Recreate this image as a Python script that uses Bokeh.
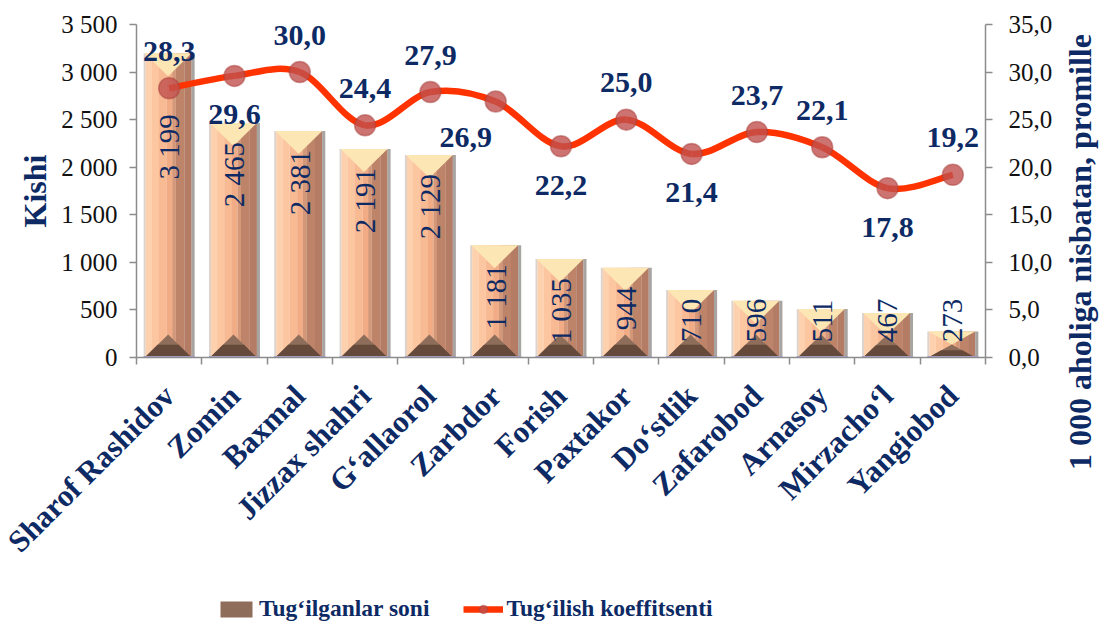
import math
import numpy as np
from bokeh.plotting import figure
from bokeh.layouts import row, column
from bokeh.models import (ColumnDataSource, Range1d, LinearAxis, FixedTicker,
                          LabelSet, Legend, LegendItem, Div)
from bokeh.core.properties import value
from bokeh.embed import file_html
from bokeh.resources import INLINE

# ---------------- data ----------------
categories = ["Sharof Rashidov", "Zomin", "Baxmal", "Jizzax shahri", "G\u2018allaorol",
              "Zarbdor", "Forish", "Paxtakor", "Do\u2018stlik", "Zafarobod",
              "Arnasoy", "Mirzacho\u2018l", "Yangiobod"]
births = [3199, 2465, 2381, 2191, 2129, 1181, 1035, 944, 710, 596, 511, 467, 273]
births_text = ["3 199", "2 465", "2 381", "2 191", "2 129", "1 181", "1 035",
               "944", "710", "596", "511", "467", "273"]
rate = [28.3, 29.6, 30.0, 24.4, 27.9, 26.9, 22.2, 25.0, 21.4, 23.7, 22.1, 17.8, 19.2]
rate_text = ["28,3", "29,6", "30,0", "24,4", "27,9", "26,9", "22,2", "25,0",
             "21,4", "23,7", "22,1", "17,8", "19,2"]
left_ticks = [0, 500, 1000, 1500, 2000, 2500, 3000, 3500]
left_tick_text = ["0", "500", "1 000", "1 500", "2 000", "2 500", "3 000", "3 500"]
right_ticks = [0, 5, 10, 15, 20, 25, 30, 35]
right_tick_text = ["0,0", "5,0", "10,0", "15,0", "20,0", "25,0", "30,0", "35,0"]
left_title = "Kishi"
right_title = "1 000 aholiga nisbatan, promille"
series_names = ["Tug\u2018ilganlar soni", "Tug\u2018ilish koeffitsenti"]

# label placement style for the rate labels
rate_label_side = ["above", "below", "above", "above", "above", "below-left", "below",
                   "above", "below", "above", "above", "below", "above"]

# ---------------- style ----------------
NAVY = "#0D2A64"
FONT = "Liberation Serif"
BAR_W = 0.78
BEVEL = 242          # bevel depth, in left-axis units (about 23 px)
LINE_COLOR = "#FF3300"
MARK_FILL = "#C0504D"
BEVEL_TOP = "#FCE7B4"
BEVEL_BOT = "#8E6E5A"
BEVEL_BOT2 = "#65493A"

n = len(categories)
xs = np.arange(n, dtype=float)

p = figure(width=1068, height=586, x_range=Range1d(-0.5, n - 0.5), y_range=Range1d(0, 3500),
           output_backend="svg", toolbar_location=None,
           min_border_left=136, min_border_right=83, min_border_top=24, min_border_bottom=229)
p.extra_y_ranges = {"r": Range1d(0, 35)}
p.outline_line_color = None
p.xgrid.visible = False
p.ygrid.visible = False

# ---------------- bars (strips imitate the gradient) ----------------
strips = [(0.00, 0.04, "#DCD3CC"), (0.04, 0.16, "#FDD0AE"), (0.16, 0.30, "#FCC6A0"),
          (0.30, 0.45, "#F8BA93"), (0.45, 0.56, "#F1AC86"), (0.56, 0.63, "#D49878"),
          (0.63, 0.80, "#BE8469"), (0.80, 0.94, "#B47C64"), (0.94, 1.00, "#A8A4A2")]
for f0, f1, col in strips:
    off = (f0 + f1) / 2 - 0.5
    p.vbar(x=list(xs + off * BAR_W), top=births, width=(f1 - f0) * BAR_W * 1.02,
           bottom=0, fill_color=col, line_color=None)

top_xs, top_ys, bot_xs, bot_ys, bot2_xs, bot2_ys = [], [], [], [], [], []
for x, v in zip(xs, births):
    d = min(BEVEL, v / 2)
    xl, xr, xm = x - BAR_W / 2 * 0.96, x + BAR_W / 2 * 0.88, x - BAR_W * 0.02
    top_xs.append([xl, xr, xm])
    top_ys.append([v, v, v - d])
    bot_xs.append([xl, xr, xm])
    bot_ys.append([0, 0, d])
    bot2_xs.append([xl, xr, xm + (xr - xm) * 0.45, xm - (xm - xl) * 0.45])
    bot2_ys.append([0, 0, d * 0.55, d * 0.55])
p.patches(top_xs, top_ys, fill_color=BEVEL_TOP, line_color=None)
p.patches(bot_xs, bot_ys, fill_color=BEVEL_BOT, line_color=None)
p.patches(bot2_xs, bot2_ys, fill_color=BEVEL_BOT2, line_color=None)
p.segment(x0=list(xs - BAR_W / 2), y0=[0] * n, x1=list(xs + BAR_W / 2), y1=[0] * n,
          line_color="#A79FCF", line_width=3)

# bar value labels (rotated)
lab_y = [v - 200 if v >= 900 else 160 for v in births]
lab_align = ["right" if v >= 900 else "left" for v in births]
lab_yoff = [0] * n
lab_yoff[0] = 42
bsrc = ColumnDataSource(dict(x=xs, y=lab_y, t=births_text, a=lab_align, yo=lab_yoff))
p.text(x="x", y="y", text="t", source=bsrc, angle=math.pi / 2, text_align="a",
       text_baseline="middle", y_offset="yo", text_font=value(FONT),
       text_font_size="29px", text_color=NAVY)

# ---------------- smooth line (Catmull-Rom as Bezier) ----------------
P = np.column_stack([xs, np.array(rate)])
x0, y0, x1, y1, cx0, cy0, cx1, cy1 = [], [], [], [], [], [], [], []
for i in range(n - 1):
    pa = P[i - 1] if i > 0 else P[i]
    pb, pc = P[i], P[i + 1]
    pd = P[i + 2] if i + 2 < n else P[i + 1]
    c1 = pb + (pc - pa) / 6
    c2 = pc - (pd - pb) / 6
    x0.append(pb[0]); y0.append(pb[1]); x1.append(pc[0]); y1.append(pc[1])
    cx0.append(c1[0]); cy0.append(c1[1]); cx1.append(c2[0]); cy1.append(c2[1])
p.bezier(x0=x0, y0=y0, x1=x1, y1=y1, cx0=cx0, cy0=cy0, cx1=cx1, cy1=cy1,
         line_color=LINE_COLOR, line_width=6.5, y_range_name="r")
p.scatter(x=list(xs), y=rate, size=21, fill_color=MARK_FILL, fill_alpha=0.8,
          line_color="#A8403C", line_alpha=0.5, line_width=1.5, y_range_name="r")

offs = {"above": (0, 37), "below": (0, -39), "below-left": (-30, -36)}
rsrc = ColumnDataSource(dict(x=xs, y=rate, t=rate_text,
                             xo=[offs[s][0] for s in rate_label_side],
                             yo=[offs[s][1] for s in rate_label_side]))
p.add_layout(LabelSet(x="x", y="y", text="t", source=rsrc, y_range_name="r",
                      x_offset="xo", y_offset="yo", text_align="center",
                      text_baseline="middle", text_font=value(FONT), text_font_style="bold",
                      text_font_size="30px", text_color=NAVY))

# ---------------- axes ----------------
xa = p.xaxis[0]
xa.ticker = FixedTicker(ticks=list(xs), minor_ticks=[i - 0.5 for i in range(n + 1)])
xa.major_label_overrides = {i: c for i, c in enumerate(categories)}
xa.major_tick_line_color = None
xa.minor_tick_out = 7
xa.minor_tick_in = 0
xa.minor_tick_line_color = "#8C8C8C"
xa.minor_tick_line_width = 1.5
xa.axis_line_color = "#8C8C8C"
xa.axis_line_width = 1.5
xa.major_label_orientation = math.pi / 4
xa.major_label_standoff = 26
xa.major_label_text_font = FONT
xa.major_label_text_font_style = "bold"
xa.major_label_text_font_size = "31px"
xa.major_label_text_color = NAVY

ya = p.yaxis[0]
ya.ticker = FixedTicker(ticks=left_ticks)
ya.major_label_overrides = {t: s for t, s in zip(left_ticks, left_tick_text)}
ya.axis_label = left_title
ya.axis_label_standoff = 5
ya.axis_label_text_font = FONT
ya.axis_label_text_font_style = "bold"
ya.axis_label_text_font_size = "32px"
ya.axis_label_text_color = NAVY

ra = LinearAxis(y_range_name="r", ticker=FixedTicker(ticks=right_ticks))
ra.major_label_overrides = {t: s for t, s in zip(right_ticks, right_tick_text)}
p.add_layout(ra, "right")

for ax in (ya, ra):
    ax.minor_tick_line_color = None
    ax.major_tick_out = 7
    ax.major_tick_in = 0
    ax.major_tick_line_color = "#8C8C8C"
    ax.major_tick_line_width = 1.5
    ax.axis_line_color = "#8C8C8C"
    ax.axis_line_width = 1.5
    ax.major_label_text_font = FONT
    ax.major_label_text_font_size = "25px"
    ax.major_label_text_color = "#111111"
ya.major_label_standoff = 12
ra.major_label_standoff = 16

# ---------------- right axis title (reads bottom to top) ----------------
title_div = Div(text=right_title, width=32, height=494,
                styles={"writing-mode": "vertical-rl",
                        "transform": "translate(-9px, 0px) rotate(180deg)",
                        "text-align": "center", "font-family": FONT, "font-weight": "bold",
                        "font-size": "32px", "line-height": "32px", "color": NAVY,
                        "white-space": "nowrap", "overflow": "visible"})

# ---------------- legend strip ----------------
lg = figure(width=1100, height=40, x_range=Range1d(0, 1), y_range=Range1d(0, 1),
            output_backend="svg", toolbar_location=None, min_border=0)
lg.outline_line_color = None
lg.xaxis.visible = False
lg.yaxis.visible = False
lg.xgrid.visible = False
lg.ygrid.visible = False
# legend-only renderers, placed outside the visible range
r_bar = lg.patches(xs=[[-10, -9, -9.5]], ys=[[-10, -10, -9]], fill_color=BEVEL_BOT,
                   line_color=None)
r_line = lg.line(x=[-10, -9], y=[-10, -10], line_color=LINE_COLOR, line_width=6.5)
r_mark = lg.scatter(x=[-10], y=[-10], size=21, fill_color=MARK_FILL, fill_alpha=0.8,
                    line_color="#A8403C", line_alpha=0.5, line_width=1.5)
legend = Legend(items=[LegendItem(label=series_names[0], renderers=[r_bar]),
                       LegendItem(label=series_names[1], renderers=[r_line, r_mark])],
                location=(216, 4), orientation="horizontal",
                glyph_width=40, glyph_height=20, label_standoff=3, spacing=34,
                padding=0, margin=0, border_line_color=None, background_fill_alpha=0,
                label_text_font=FONT, label_text_font_style="bold",
                label_text_font_size="23.5px", label_text_color=NAVY)
lg.add_layout(legend, "center")

layout = column(row(p, title_div), lg)
open("out.html", "w").write(file_html(layout, INLINE))
